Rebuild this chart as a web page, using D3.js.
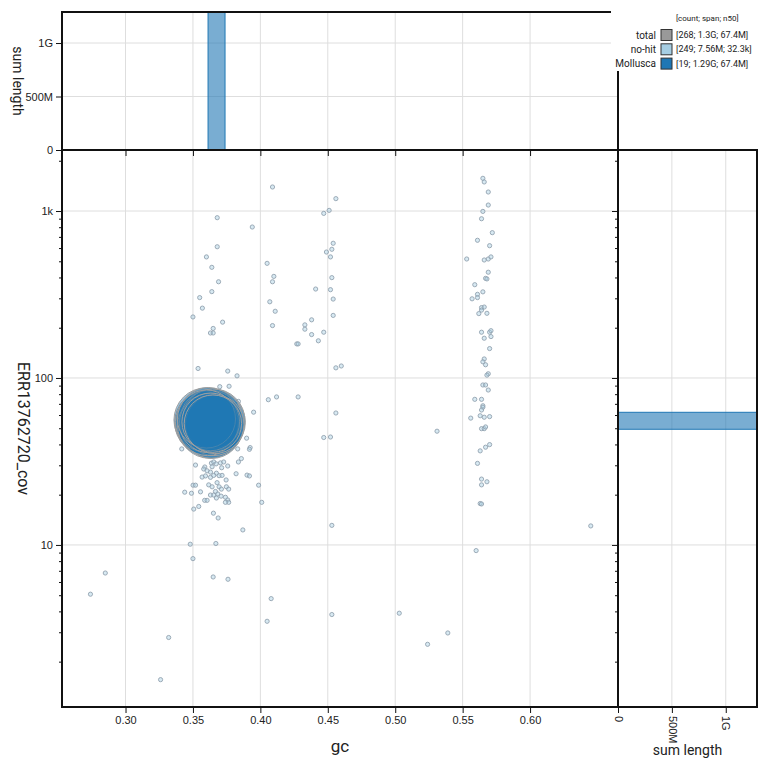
<!DOCTYPE html>
<html>
<head>
<meta charset="utf-8">
<script src="https://cdn.jsdelivr.net/npm/d3@7"></script>
<style>
  body { margin: 0; background: #fff; }
  svg { font-family: Roboto, sans-serif; }
</style>
</head>
<body>
<svg id="chart" width="770" height="770"></svg>
<script>
// ---- data ----
const gcDomain = [0.2529, 0.6652];
const covDomain = [1.07, 2320];
const gcTicks = [0.30, 0.35, 0.40, 0.45, 0.50, 0.55, 0.60];
const covMajorTicks = [10, 100, 1000];
const spanTicks = [0, 5e8, 1e9];

// no-hit contigs: [gc, coverage]
const noHitPoints = [
  [0.409,1393],[0.456,1186],[0.451,1009],[0.447,968],[0.368,912],[0.394,802],[0.454,641],[0.453,590],
  [0.449,568],[0.368,611],[0.360,531],[0.452,531],[0.405,486],[0.364,460],[0.410,406],[0.453,399],
  [0.409,377],[0.369,377],[0.441,341],[0.452,338],[0.364,329],[0.355,303],[0.454,297],[0.407,286],
  [0.357,262],[0.411,251],[0.350,232],[0.454,237],[0.438,223],[0.372,216],[0.409,206],[0.433,208],
  [0.365,198],[0.433,196],[0.447,188],[0.363,186],[0.365,186],[0.438,182],[0.443,167],[0.427,160],
  [0.428,160],[0.456,115],[0.460,118],[0.412,77.0],[0.428,77.0],[0.456,61.7],[0.447,44.0],[0.452,44.3],
  [0.565,1570],[0.566,1493],[0.569,1300],[0.569,1086],[0.565,995],[0.564,899],[0.572,742],[0.561,668],
  [0.570,620],[0.553,516],[0.566,509],[0.569,516],[0.571,531],[0.569,430],[0.567,395],[0.568,392],
  [0.559,362],[0.565,328],[0.561,317],[0.561,303],[0.557,298],[0.564,264],[0.566,266],[0.564,255],
  [0.562,243],[0.568,244],[0.564,188],[0.570,188],[0.571,192],[0.571,177],[0.566,173],[0.570,150],
  [0.566,130],[0.565,125],[0.567,120],[0.569,106],[0.568,104],[0.565,90.8],[0.567,90.8],[0.569,84.7],
  [0.559,74.5],[0.564,74.5],[0.565,68.2],[0.565,66.8],[0.564,64.3],[0.556,57.5],[0.563,59.4],[0.566,58.2],
  [0.570,58.7],[0.564,49.7],[0.566,49.7],[0.567,50.9],[0.570,39.9],[0.567,38.5],[0.563,36.6],[0.561,30.8],
  [0.564,24.8],[0.568,23.9],[0.564,22.9],[0.563,17.7],[0.564,17.6],[0.560,9.25],
  [0.531,48.0],[0.503,3.90],[0.539,2.97],[0.524,2.54],[0.645,13.0],[0.453,13.1],[0.285,6.79],[0.274,5.07],
  [0.348,10.1],[0.367,10.2],[0.387,12.3],[0.350,8.28],[0.365,6.43],[0.376,6.23],[0.408,4.77],[0.405,3.49],
  [0.453,3.83],[0.332,2.79],[0.326,1.56],
  [0.3538,114],[0.3758,110],[0.3827,103],[0.3699,88.7],[0.3768,89.2],[0.3837,72.4],[0.4059,74.1],[0.395,62.4],
  [0.3898,43.6],[0.3924,38.3],[0.3919,37.4],[0.3832,37.6],[0.3417,37.6],[0.3859,32.9],[0.3837,31.4],[0.3519,30.1],
  [0.3588,29.3],[0.358,28.5],[0.3637,30.9],[0.3654,31.4],[0.3672,30.6],[0.3642,29.4],[0.3704,31.0],[0.3728,31.4],
  [0.3713,29.0],[0.3758,29.7],[0.3605,27.8],[0.363,27.3],[0.3674,26.9],[0.3694,26.0],[0.3716,26.1],[0.382,26.7],
  [0.3901,26.2],[0.3919,25.9],[0.3568,25.5],[0.3593,25.9],[0.363,25.4],[0.3654,26.1],[0.3746,24.5],[0.3679,23.6],
  [0.3694,22.3],[0.3711,21.6],[0.3987,22.8],[0.3501,22.8],[0.3519,22.8],[0.3617,22.9],[0.3642,22.3],[0.3748,22.3],
  [0.3765,21.6],[0.3667,20.9],[0.3684,20.2],[0.3556,20.8],[0.3439,20.7],[0.3489,20.4],[0.363,19.9],[0.3654,19.9],
  [0.3709,19.6],[0.3741,19.3],[0.3587,18.5],[0.3605,18.5],[0.3674,19.1],[0.3758,18.6],[0.3765,18.0],[0.3741,18.0],
  [0.401,18.0],[0.3543,17.0],[0.3506,16.4],[0.3652,15.5],[0.3687,14.5]
];

// Mollusca contigs
const molluscaGc  = [0.3610,0.3635,0.3598,0.3650,0.3622,0.3603,0.3660,0.3615,0.3640,0.3595,0.3655,0.3628,0.3608,0.3645,0.3618,0.3662,0.3600,0.3632,0.3648];
const molluscaCov = [54.0,52.5,56.0,55.5,51.0,53.0,54.2,57.5,50.2,54.8,52.0,55.8,51.8,57.0,53.6,52.8,56.8,54.6,53.3];
const molluscaLen = [80e6,78e6,76e6,74e6,72e6,70e6,69e6,68e6,67.4e6,67e6,66e6,66e6,65e6,64e6,63e6,62e6,61e6,60e6,59.2e6];

// histogram bins (sum length)
const gcBinStart = [0.3612];
const gcBinEnd   = [0.3738];
const gcBinSpan  = [1.29e9];
const covBinStart = [49.3];
const covBinEnd   = [62.3];
const covBinSpan  = [1.29e9];

// legend
const legendNames = ["total", "no-hit", "Mollusca"];
const legendStats = ["[268; 1.3G; 67.4M]", "[249; 7.56M; 32.3k]", "[19; 1.29G; 67.4M]"];
const legendColors = ["#999999", "#a6cee3", "#1f77b4"];

// ---- layout ----
const plot = { left: 62, right: 618, top: 150, bottom: 707 };
const topTop = 12;
const rightRight = 757;
const gridColor = "#dedede";

const svg = d3.select("#chart");

const x = d3.scaleLinear().domain(gcDomain).range([plot.left, plot.right]);
const y = d3.scaleLog().domain(covDomain).range([plot.bottom, plot.top]);
const maxSpan = d3.max(gcBinSpan.concat(covBinSpan));
const hTop = d3.scaleLinear().domain([0, maxSpan]).range([plot.top, topTop]);
const hRight = d3.scaleLinear().domain([0, maxSpan]).range([plot.right, rightRight]);
const r = d3.scaleSqrt().domain([0, d3.max(molluscaLen)]).range([2.1, 33]);

const spanFmt = d => d === 0 ? "0" : d3.format("~s")(d);
const covFmt = d3.format("~s");

// ---- grid ----
const grid = svg.append("g");
grid.selectAll(".gx").data(gcTicks).enter().append("line")
  .attr("x1", d => x(d)).attr("x2", d => x(d))
  .attr("y1", topTop).attr("y2", plot.bottom)
  .attr("stroke", gridColor);
grid.selectAll(".gy").data(covMajorTicks).enter().append("line")
  .attr("y1", d => y(d)).attr("y2", d => y(d))
  .attr("x1", plot.left).attr("x2", rightRight)
  .attr("stroke", gridColor);
grid.selectAll(".gt").data(spanTicks.slice(1)).enter().append("line")
  .attr("y1", d => hTop(d)).attr("y2", d => hTop(d))
  .attr("x1", plot.left).attr("x2", plot.right)
  .attr("stroke", gridColor);
grid.selectAll(".gr").data(spanTicks.slice(1)).enter().append("line")
  .attr("x1", d => hRight(d)).attr("x2", d => hRight(d))
  .attr("y1", plot.top).attr("y2", plot.bottom)
  .attr("stroke", gridColor);

// ---- histograms ----
svg.append("g").selectAll("rect").data(gcBinStart).enter().append("rect")
  .attr("x", (d, i) => x(d))
  .attr("width", (d, i) => x(gcBinEnd[i]) - x(d))
  .attr("y", (d, i) => hTop(gcBinSpan[i]))
  .attr("height", (d, i) => hTop(0) - hTop(gcBinSpan[i]))
  .attr("fill", "#1f77b4").attr("fill-opacity", 0.6)
  .attr("stroke", "#1f77b4");

svg.append("g").selectAll("rect").data(covBinStart).enter().append("rect")
  .attr("y", (d, i) => y(covBinEnd[i]))
  .attr("height", (d, i) => y(d) - y(covBinEnd[i]))
  .attr("x", hRight(0))
  .attr("width", (d, i) => hRight(covBinSpan[i]) - hRight(0))
  .attr("fill", "#1f77b4").attr("fill-opacity", 0.6)
  .attr("stroke", "#1f77b4");

// ---- scatter ----
const pts = svg.append("g");
pts.selectAll(".nohit").data(noHitPoints).enter().append("circle")
  .attr("cx", d => x(d[0])).attr("cy", d => y(d[1]))
  .attr("r", r(0))
  .attr("fill", "#a6cee3").attr("fill-opacity", 0.45)
  .attr("stroke", "#93a3b0").attr("stroke-width", 0.9);

const mol = molluscaLen.map((len, i) => ({ gc: molluscaGc[i], cov: molluscaCov[i], len }))
  .sort((a, b) => b.len - a.len);
pts.selectAll(".mol").data(mol).enter().append("circle")
  .attr("cx", d => x(d.gc)).attr("cy", d => y(d.cov))
  .attr("r", d => r(d.len))
  .attr("fill", "#1f77b4").attr("fill-opacity", 0.45)
  .attr("stroke", "#a0a0a0").attr("stroke-width", 1);

// ---- frames ----
const frames = [
  [plot.left, topTop, plot.right - plot.left, plot.top - topTop],
  [plot.left, plot.top, plot.right - plot.left, plot.bottom - plot.top],
  [plot.right, plot.top, rightRight - plot.right, plot.bottom - plot.top]
];
svg.append("g").selectAll("rect").data(frames).enter().append("rect")
  .attr("x", d => d[0]).attr("y", d => d[1])
  .attr("width", d => d[2]).attr("height", d => d[3])
  .attr("fill", "none").attr("stroke", "#111").attr("stroke-width", 2);

// ---- axes ----
function styleAxis(g) {
  g.select(".domain").remove();
  g.selectAll(".tick line").attr("stroke", "#111");
  g.selectAll(".tick text").attr("fill", "#222").attr("font-size", 11);
}

const logTicks = y.ticks().filter(d => d >= covDomain[0] && d <= covDomain[1]);
const isMajor = d => covMajorTicks.includes(d);

svg.append("g").attr("transform", `translate(0,${plot.bottom})`)
  .call(d3.axisBottom(x).tickValues(gcTicks).tickFormat(d3.format(".2f")))
  .call(styleAxis);

svg.append("g").attr("transform", `translate(${plot.left},0)`)
  .call(d3.axisLeft(y).tickValues(logTicks).tickFormat(d => isMajor(d) ? covFmt(d) : ""))
  .call(styleAxis)
  .call(g => g.selectAll(".tick line").attr("x2", d => isMajor(d) ? -6 : -3));

// top histogram axes
svg.append("g").attr("transform", `translate(0,${plot.top})`)
  .call(d3.axisBottom(x).tickValues(gcTicks).tickFormat(""))
  .call(styleAxis);
svg.append("g").attr("transform", `translate(${plot.left},0)`)
  .call(d3.axisLeft(hTop).tickValues(spanTicks).tickFormat(spanFmt))
  .call(styleAxis);

// right histogram axes
svg.append("g").attr("transform", `translate(${plot.right},0)`)
  .call(d3.axisLeft(y).tickValues(logTicks).tickFormat(""))
  .call(styleAxis)
  .call(g => g.selectAll(".tick line").attr("x2", d => isMajor(d) ? -6 : -3));
svg.append("g").attr("transform", `translate(0,${plot.bottom})`)
  .call(d3.axisBottom(hRight).tickValues(spanTicks).tickFormat(spanFmt))
  .call(styleAxis)
  .call(g => g.selectAll(".tick text")
    .attr("transform", "rotate(90)")
    .attr("text-anchor", "start")
    .attr("x", 9).attr("y", 0).attr("dy", "0.35em"));

// ---- axis titles ----
svg.append("text").attr("x", (plot.left + plot.right) / 2).attr("y", 752)
  .attr("text-anchor", "middle").attr("font-size", 17).attr("fill", "#222").text("gc");
svg.append("text").attr("x", (plot.right + rightRight) / 2).attr("y", 755)
  .attr("text-anchor", "middle").attr("font-size", 14).attr("fill", "#222").text("sum length");
svg.append("text")
  .attr("transform", `translate(24,${(plot.top + plot.bottom) / 2}) rotate(90)`)
  .attr("text-anchor", "middle").attr("dy", "0.35em")
  .attr("font-size", 16).attr("fill", "#222").text("ERR13762720_cov");
svg.append("text")
  .attr("transform", `translate(18,${(topTop + plot.top) / 2}) rotate(90)`)
  .attr("text-anchor", "middle").attr("dy", "0.35em")
  .attr("font-size", 14).attr("fill", "#222").text("sum length");

// ---- legend ----
const legend = svg.append("g");
legend.append("rect").attr("x", 611).attr("y", 0).attr("width", 159).attr("height", 71).attr("fill", "#fff");
legend.append("text").attr("x", 676).attr("y", 21).attr("font-size", 8).attr("fill", "#222")
  .text("[count; span; n50]");
const rows = legend.selectAll(".row").data(legendNames).enter().append("g")
  .attr("transform", (d, i) => `translate(0,${35 + i * 14.3})`);
rows.append("text").attr("x", 656).attr("dy", "0.35em").attr("text-anchor", "end")
  .attr("font-size", 10).attr("fill", "#222").text(d => d);
rows.append("rect").attr("x", 661).attr("y", -5.5).attr("width", 11).attr("height", 11)
  .attr("fill", (d, i) => legendColors[i]).attr("stroke", "#333").attr("stroke-width", 1);
rows.append("text").attr("x", 676).attr("dy", "0.35em")
  .attr("font-size", 9).attr("fill", "#222").text((d, i) => legendStats[i]);
</script>
</body>
</html>
